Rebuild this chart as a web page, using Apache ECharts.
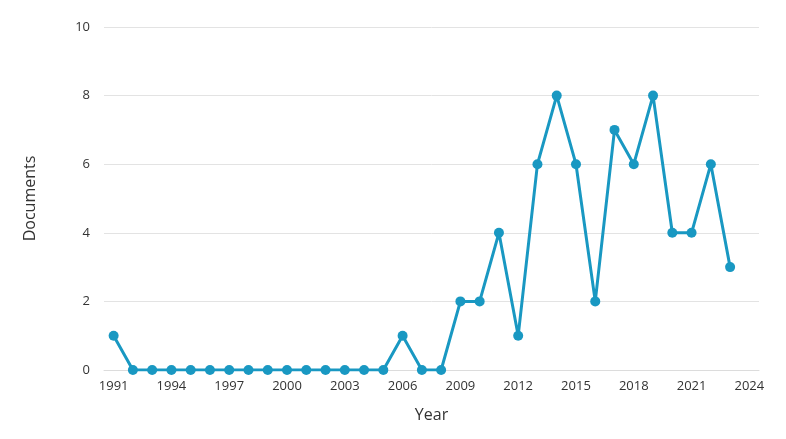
<!DOCTYPE html>
<html>
<head>
<meta charset="utf-8">
<script src="https://cdn.jsdelivr.net/npm/echarts@6/dist/echarts.min.js"></script>
<style>html,body{margin:0;padding:0;background:#fff;}#c{width:786px;height:439px;}</style>
</head>
<body>
<div id="c"></div>
<script>
var years = [];
for (var y = 1991; y <= 2024; y++) years.push(String(y));
var documents = [1,0,0,0,0,0,0,0,0,0,0,0,0,0,0,1,0,0,2,2,4,1,6,8,6,2,7,6,8,4,4,6,3];
var yTicks = [0,2,4,6,8,10];

var chart = echarts.init(document.getElementById('c'), null, {renderer:'canvas'});
var font = '"Open Sans", "Noto Sans", sans-serif';
chart.setOption({
  animation: false,
  grid: {left:104, right:27, top:27, bottom:69, containLabel:false},
  xAxis: {
    type: 'category',
    data: years,
    boundaryGap: true,
    name: 'Year',
    nameLocation: 'middle',
    nameGap: 37,
    nameTextStyle: {fontFamily: font, fontSize: 16, color: '#333'},
    axisLine: {show: true, lineStyle: {color: '#dcdcdc'}},
    axisTick: {show: false},
    axisLabel: {interval: 2, fontFamily: font, fontSize: 13, color: '#333', margin: 10}
  },
  yAxis: {
    type: 'value',
    min: 0, max: 10, interval: 2,
    name: 'Documents',
    nameLocation: 'middle',
    nameGap: 66,
    nameTextStyle: {fontFamily: font, fontSize: 16, color: '#333'},
    axisLine: {show: false},
    axisTick: {show: false},
    splitLine: {lineStyle: {color: '#e3e3e3'}},
    axisLabel: {fontFamily: font, fontSize: 13, color: '#333', margin: 14,
      formatter: function(v){ return yTicks.indexOf(v) >= 0 ? String(v) : ''; }}
  },
  series: [{
    type: 'line',
    data: documents,
    symbol: 'circle',
    symbolSize: 10,
    showAllSymbol: true,
    lineStyle: {color: '#1998c2', width: 3},
    itemStyle: {color: '#1998c2'}
  }]
});
</script>
</body>
</html>
